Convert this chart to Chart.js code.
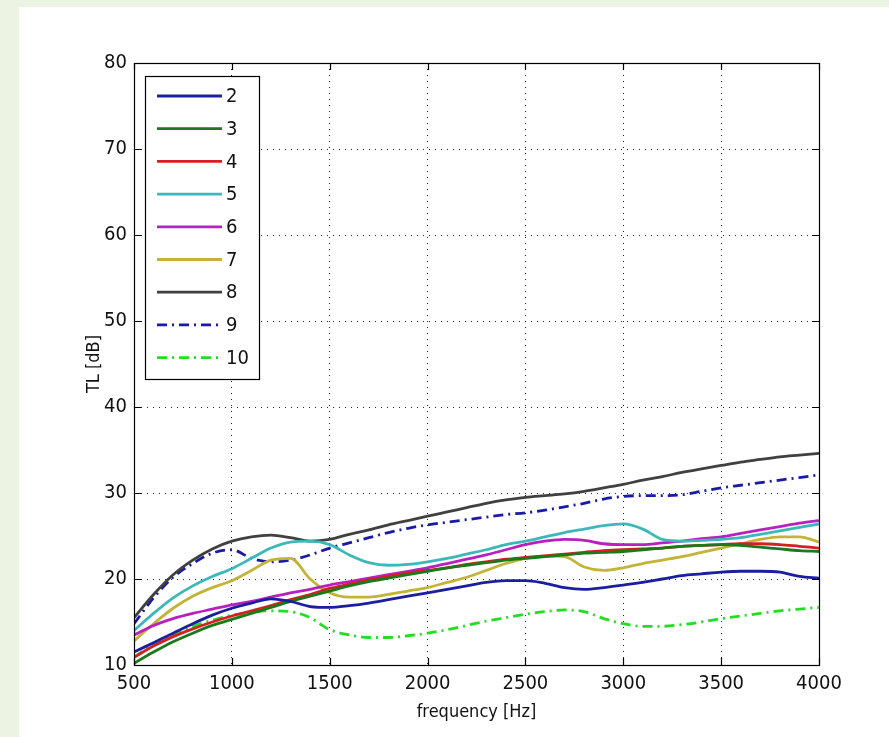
<!DOCTYPE html>
<html>
<head>
<meta charset="utf-8">
<script src="https://cdn.jsdelivr.net/npm/chart.js@4.4.0/dist/chart.umd.min.js"></script>
<style>
  html, body { margin: 0; padding: 0; background: #ecf3e3; }
  #c { display: block; }
</style>
</head>
<body>
<canvas id="c" width="889" height="737"></canvas>
<script>
// ---- data ----
const freq = [500,600,700,800,900,1000,1100,1200,1300,1400,1500,1600,1700,1800,1900,2000,2100,2200,2300,2400,2500,2600,2700,2800,2900,3000,3100,3200,3300,3400,3500,3600,3700,3800,3900,4000];

const seriesNames = ['2','3','4','5','6','7','8','9','10'];

const tl2  = [11.5,12.6,13.7,14.8,15.8,16.6,17.2,17.7,17.4,16.8,16.7,16.9,17.2,17.6,18.0,18.4,18.8,19.2,19.6,19.8,19.8,19.5,19.0,18.8,19.0,19.3,19.6,20.0,20.4,20.6,20.8,20.9,20.9,20.8,20.3,20.1];
const tl3  = [10.2,11.5,12.7,13.7,14.6,15.3,16.0,16.7,17.4,18.0,18.6,19.2,19.7,20.1,20.5,20.9,21.3,21.6,21.9,22.2,22.4,22.6,22.8,23.0,23.1,23.2,23.4,23.6,23.8,23.9,24.0,23.9,23.7,23.5,23.3,23.2];
const tl4  = [10.9,12.2,13.3,14.2,15.0,15.7,16.3,16.9,17.6,18.2,18.9,19.4,19.9,20.3,20.7,21.0,21.3,21.7,22.0,22.3,22.5,22.7,22.9,23.1,23.3,23.4,23.5,23.6,23.8,23.9,24.0,24.1,24.1,24.0,23.8,23.6];
const tl5  = [14.0,16.0,17.8,19.2,20.3,21.2,22.4,23.6,24.3,24.4,24.0,22.8,21.9,21.6,21.7,22.0,22.4,22.9,23.4,24.0,24.4,24.9,25.4,25.8,26.2,26.4,25.8,24.6,24.4,24.5,24.6,24.8,25.2,25.6,26.0,26.4];
const tl6  = [13.5,14.6,15.4,16.0,16.5,17.0,17.4,17.9,18.4,18.8,19.3,19.7,20.1,20.5,20.9,21.3,21.8,22.3,22.8,23.4,24.0,24.4,24.6,24.5,24.1,24.0,24.0,24.2,24.4,24.7,24.9,25.3,25.7,26.1,26.5,26.8];
const tl7  = [12.8,14.8,16.6,18.0,19.0,19.8,21.0,22.2,22.4,20.0,18.4,17.9,17.9,18.2,18.6,19.0,19.6,20.2,21.0,21.8,22.4,22.7,22.6,21.4,21.0,21.3,21.8,22.2,22.6,23.1,23.6,24.1,24.6,24.9,24.9,24.3];
const tl8  = [15.5,18.2,20.5,22.2,23.5,24.4,24.9,25.1,24.8,24.4,24.6,25.2,25.7,26.3,26.8,27.3,27.8,28.3,28.8,29.2,29.5,29.7,29.9,30.2,30.6,31.0,31.5,31.9,32.4,32.8,33.2,33.6,33.9,34.2,34.4,34.6];
const tl9  = [14.8,17.8,20.2,21.8,23.0,23.4,22.4,22.0,22.2,22.8,23.6,24.2,24.8,25.4,25.9,26.3,26.6,26.9,27.2,27.5,27.7,28.0,28.4,28.8,29.3,29.6,29.7,29.7,29.8,30.2,30.6,30.9,31.2,31.5,31.8,32.1];
const tl10 = [10.9,12.4,13.6,14.5,15.2,15.8,16.1,16.3,16.2,15.5,14.1,13.5,13.2,13.2,13.4,13.7,14.1,14.6,15.1,15.5,15.9,16.2,16.4,16.2,15.4,14.8,14.5,14.5,14.7,15.0,15.4,15.7,16.0,16.3,16.5,16.7];

const xTicks = [500,1000,1500,2000,2500,3000,3500,4000];
const yTicks = [10,20,30,40,50,60,70,80];

// ---- styles ----
const colors = ['#1b1f9e','#1a7a1a','#d42020','#3cb8b8','#b820c0','#c2b436','#404040','#1a1aa8','#22dd22'];
const dashes = [[],[],[],[],[],[],[],[10,5,2,5],[10,5,2,5]];
const allValues = [tl2,tl3,tl4,tl5,tl6,tl7,tl8,tl9,tl10];

const FONT = "'Liberation Sans Narrow','DejaVu Sans Condensed','Liberation Sans',Arial,sans-serif";

const datasets = allValues.map((vals, i) => ({
  label: seriesNames[i],
  data: vals.map((v, k) => ({x: freq[k], y: v})),
  borderColor: colors[i],
  backgroundColor: colors[i],
  borderWidth: 2.8,
  borderDash: dashes[i],
  pointRadius: 0,
  fill: false,
  cubicInterpolationMode: 'monotone'
}));

const bgPlugin = {
  id: 'bg',
  beforeDraw(chart) {
    const ctx = chart.ctx;
    ctx.save();
    ctx.fillStyle = '#ecf3e3';
    ctx.fillRect(0, 0, chart.width, chart.height);
    ctx.fillStyle = '#ffffff';
    ctx.fillRect(19, 7, chart.width - 19, chart.height - 7);
    ctx.restore();
  }
};

const framePlugin = {
  id: 'frame',
  afterDatasetsDraw(chart) {
    const {ctx, chartArea: a, scales} = chart;
    ctx.save();
    ctx.strokeStyle = '#000';
    ctx.lineWidth = 1.2;
    ctx.strokeRect(a.left + 0.5, a.top + 0.5, a.right - a.left, a.bottom - a.top);
    const L = 7;
    ctx.beginPath();
    xTicks.forEach(v => {
      const x = Math.round(scales.x.getPixelForValue(v)) + 0.5;
      ctx.moveTo(x, a.bottom); ctx.lineTo(x, a.bottom - L);
      ctx.moveTo(x, a.top); ctx.lineTo(x, a.top + L);
    });
    yTicks.forEach(v => {
      const y = Math.round(scales.y.getPixelForValue(v)) + 0.5;
      ctx.moveTo(a.left, y); ctx.lineTo(a.left + L, y);
      ctx.moveTo(a.right, y); ctx.lineTo(a.right - L, y);
    });
    ctx.stroke();
    ctx.restore();
  }
};

const legendPlugin = {
  id: 'matlabLegend',
  afterDraw(chart) {
    const ctx = chart.ctx;
    const bx = 145.5, by = 76.5, bw = 114, bh = 303;
    ctx.save();
    ctx.fillStyle = '#fff';
    ctx.fillRect(bx, by, bw, bh);
    ctx.strokeStyle = '#000';
    ctx.lineWidth = 1.2;
    ctx.strokeRect(bx, by, bw, bh);
    ctx.font = "20px " + FONT;
    ctx.textBaseline = 'middle';
    ctx.textAlign = 'left';
    chart.data.datasets.forEach((ds, i) => {
      const y = 96 + i * 32.7;
      ctx.strokeStyle = ds.borderColor;
      ctx.lineWidth = ds.borderWidth;
      ctx.setLineDash(ds.borderDash || []);
      ctx.beginPath();
      ctx.moveTo(157, y); ctx.lineTo(222, y);
      ctx.stroke();
      ctx.setLineDash([]);
      ctx.fillStyle = '#111';
      ctx.fillText(ds.label, 226, y + 1);
    });
    ctx.restore();
  }
};

new Chart(document.getElementById('c'), {
  type: 'line',
  data: { datasets },
  options: {
    responsive: false,
    animation: false,
    layout: { padding: { left: 0, top: 63, right: 70, bottom: 0 } },
    plugins: { legend: { display: false }, tooltip: { enabled: false } },
    scales: {
      x: {
        type: 'linear', min: 500, max: 4000,
        afterBuildTicks: s => { s.ticks = xTicks.map(v => ({value: v})); },
        afterFit: s => { s.height = 72; },
        ticks: { color: '#111', font: { family: FONT, size: 20 }, padding: 7, maxRotation: 0, autoSkip: false, callback: v => String(v) },
        grid: { color: '#222', lineWidth: 1, drawTicks: false },
        border: { display: true, color: '#000', width: 1, dash: [1, 5] },
        title: { display: true, text: 'frequency [Hz]', color: '#111', font: { family: FONT, size: 18 }, padding: { top: 0, bottom: 14 } }
      },
      y: {
        type: 'linear', min: 10, max: 80,
        afterBuildTicks: s => { s.ticks = yTicks.map(v => ({value: v})); },
        afterFit: s => { s.width = 134; },
        ticks: { color: '#111', font: { family: FONT, size: 20 }, padding: 7, autoSkip: false, callback: v => String(v) },
        grid: { color: '#222', lineWidth: 1, drawTicks: false },
        border: { display: true, color: '#000', width: 1, dash: [1, 5] },
        title: { display: true, text: 'TL [dB]', color: '#111', font: { family: FONT, size: 18 }, padding: { top: 84, bottom: 0 } }
      }
    }
  },
  plugins: [bgPlugin, framePlugin, legendPlugin]
});
</script>
</body>
</html>
